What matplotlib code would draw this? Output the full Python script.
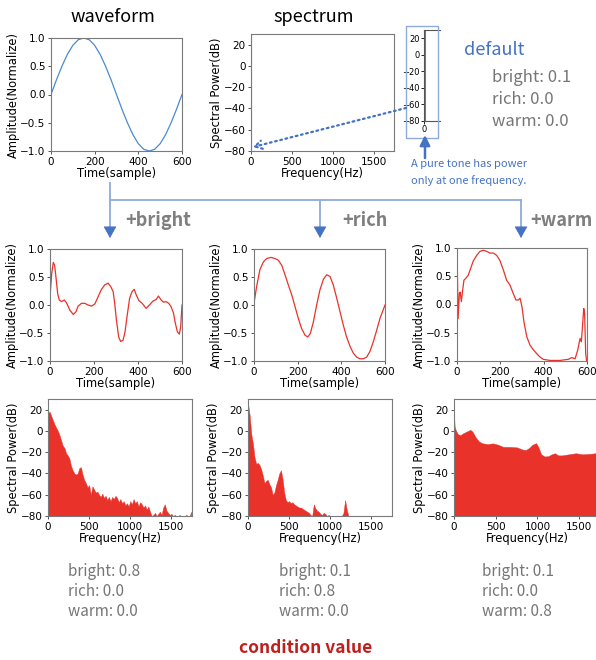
import numpy as np
import matplotlib.pyplot as plt
from matplotlib.patches import Rectangle

# ---- data ----
t_default = np.arange(0, 601, 25)
wave_default = [0, 0.26, 0.5, 0.71, 0.87, 0.97, 1.0, 0.97, 0.87, 0.71, 0.5, 0.26, 0,
                -0.26, -0.5, -0.71, -0.87, -0.97, -1.0, -0.97, -0.87, -0.71, -0.5, -0.26, 0]

t_bright = [0, 8, 15, 21, 27, 35, 42, 53, 65, 75, 90, 106, 118, 128, 143, 158, 173, 189,
            204, 219, 234, 249, 264, 276, 287, 294, 302, 312, 321, 332, 341, 351, 362, 373,
            383, 392, 404, 419, 437, 452, 468, 483, 493, 505, 516, 528, 540, 550, 561, 570,
            579, 588, 594, 600]
wave_bright = [0.15, 0.57, 0.76, 0.71, 0.5, 0.2, 0.09, 0.06, 0.09, 0.04, -0.09, -0.17, -0.12,
               -0.02, 0.03, 0.03, 0, -0.02, 0.02, 0.15, 0.28, 0.36, 0.39, 0.33, 0.24, 0.03,
               -0.27, -0.57, -0.65, -0.63, -0.48, -0.18, 0.12, 0.24, 0.28, 0.18, 0.08, 0.03,
               -0.06, 0, 0.07, 0.1, 0.16, 0.09, 0.05, 0.06, 0.03, -0.03, -0.14, -0.33, -0.48,
               -0.52, -0.39, 0]

t_rich = [0, 12, 27, 43, 58, 78, 96, 111, 127, 142, 157, 173, 188, 203, 218, 234, 246, 258,
          272, 287, 302, 318, 333, 348, 363, 379, 394, 409, 424, 440, 455, 470, 485, 501, 516,
          531, 547, 562, 577, 600]
wave_rich = [0.03, 0.33, 0.63, 0.77, 0.83, 0.85, 0.83, 0.8, 0.71, 0.54, 0.36, 0.18, -0.03,
             -0.24, -0.42, -0.54, -0.57, -0.51, -0.3, 0, 0.27, 0.46, 0.54, 0.51, 0.36, 0.12,
             -0.12, -0.36, -0.57, -0.74, -0.86, -0.93, -0.96, -0.96, -0.93, -0.83, -0.65,
             -0.45, -0.24, 0]

t_warm = [0, 2, 5, 11, 15, 20, 26, 32, 42, 52, 63, 75, 91, 106, 122, 137, 152, 168, 183,
          198, 214, 229, 245, 260, 272, 283, 291, 300, 309, 322, 337, 352, 368, 383, 398,
          429, 475, 514, 529, 545, 557, 568, 574, 580, 585, 589, 594, 598, 600]
wave_warm = [0.9, 0.55, -0.25, 0.2, 0.22, 0.05, 0.25, 0.43, 0.47, 0.52, 0.64, 0.77, 0.87,
             0.94, 0.96, 0.94, 0.91, 0.91, 0.87, 0.78, 0.61, 0.43, 0.34, 0.19, 0.08, 0.08,
             0.11, -0.04, -0.31, -0.57, -0.72, -0.8, -0.87, -0.93, -0.97, -0.99, -0.99, -0.97,
             -0.94, -0.96, -0.81, -0.6, -0.66, -0.34, -0.07, -0.16, -0.87, -0.99, -0.99]

tone_freq = 1
tone_db = 30

f_grid = np.arange(0, 1760, 20)
spec_bright = [17, 18, 14, 10, 6, 3, 0, -4, -9, -14, -16, -21, -23, -26, -33, -37, -40, -41,
               -40, -35, -34, -41, -46, -49, -53, -51, -60, -52, -55, -58, -57, -60, -62, -59,
               -63, -61, -65, -62, -66, -62, -64, -61, -63, -67, -64, -68, -66, -70, -68, -71,
               -66, -69, -64, -68, -66, -71, -67, -69, -72, -70, -74, -71, -76, -80, -79, -77,
               -80, -78, -76, -79, -72, -69, -75, -77, -79, -78, -80, -79, -80, -80, -79, -80,
               -80, -80, -79, -80, -80, -76]
spec_rich = [26, 15, -3, -12, -25, -31, -30, -32, -36, -42, -49, -47, -46, -50, -53, -60, -58,
             -51, -46, -40, -37, -45, -58, -65, -67, -66, -68, -67, -69, -70, -71, -72, -72,
             -73, -74, -75, -76, -77, -79, -80, -69, -73, -75, -76, -78, -79, -77, -78, -80,
             -79, -80, -80, -80, -80, -80, -80, -80, -80, -77, -65, -74, -80, -80, -80, -80,
             -80, -80, -80, -80, -80, -80, -80, -80, -80, -80, -80, -80, -80, -80, -80, -80,
             -80, -80, -80, -80, -80, -80, -80]

f_warm = [0, 3, 8, 20, 45, 75, 115, 155, 195, 220, 260, 300, 345, 405, 465, 530, 590, 675,
          755, 820, 860, 900, 940, 985, 1010, 1045, 1085, 1130, 1170, 1210, 1250, 1295, 1375,
          1460, 1540, 1625, 1750]
spec_warm = [28, 12, 4, 1, -3, -4, -2, -0.5, 1, -0.5, -6, -10, -11.7, -12.4, -11.7, -13, -15,
             -15, -15.5, -17.5, -18, -16, -13, -11.5, -15, -22, -24, -23.8, -22, -21, -23, -23,
             -22, -21, -22, -21.6, -20.5]

conditions = [("bright", 0.1), ("rich", 0.0), ("warm", 0.0)]
cond_bright = [("bright", 0.8), ("rich", 0.0), ("warm", 0.0)]
cond_rich = [("bright", 0.1), ("rich", 0.8), ("warm", 0.0)]
cond_warm = [("bright", 0.1), ("rich", 0.0), ("warm", 0.8)]

# ---- style ----
plt.rcParams['font.family'] = ['DejaVu Sans']
JP = ['Noto Sans CJK JP', 'DejaVu Sans']
RED = '#E8322A'
BLUE = '#4472C4'
LIGHTBLUE = '#8FAADC'
GRAY = '#767676'

W, H = 596, 660
fig = plt.figure(figsize=(W / 100, H / 100), dpi=100)


def box(l, t, r, b):
    return [l / W, 1 - b / H, (r - l) / W, (b - t) / H]


def style(ax):
    for s in ax.spines.values():
        s.set_color('#7a7a7a')
        s.set_linewidth(0.8)
    ax.tick_params(labelsize=7.5, length=2.5, width=0.7, pad=1.5, color='#555555')


def wave_ax(pos, t, y, color):
    ax = fig.add_axes(box(*pos))
    ax.plot(t, y, color=color, lw=0.9)
    ax.set_xlim(0, 600)
    ax.set_ylim(-1, 1)
    ax.set_xticks([0, 200, 400, 600])
    ax.set_yticks([-1, -0.5, 0, 0.5, 1])
    ax.set_xlabel('Time(sample)', fontsize=8.3, labelpad=0)
    ax.set_ylabel('Amplitude(Normalize)', fontsize=8.3, labelpad=0.5)
    style(ax)
    return ax


def spec_ax(pos, f, s):
    ax = fig.add_axes(box(*pos))
    if s is not None:
        ax.fill_between(f, -80, s, color=RED, lw=0.3, ec=RED)
    ax.set_xlim(0, 1750)
    ax.set_ylim(-80, 30)
    ax.set_xticks([0, 500, 1000, 1500])
    ax.set_yticks([-80, -60, -40, -20, 0, 20])
    ax.set_xlabel('Frequency(Hz)', fontsize=8.3, labelpad=0)
    ax.set_ylabel('Spectral Power(dB)', fontsize=8.3, labelpad=0.5)
    style(ax)
    return ax


# top row
wave_ax((51, 38, 182, 151), t_default, wave_default, '#4A8BD0')
ax = spec_ax((251, 34, 394, 151), None, None)
ax.vlines(tone_freq, -80, tone_db, color='#6B6BD6', lw=1.5)

ins = fig.add_axes(box(424, 30, 440, 121))
ins.vlines(tone_freq, -80, tone_db, color='#6B6BD6', lw=1.5)
ins.set_xlim(0, 20)
ins.set_ylim(-80, 30)
ins.set_xticks([0])
ins.set_yticks([-80, -60, -40, -20, 0, 20])
for s in ins.spines.values():
    s.set_color('#555555')
    s.set_linewidth(0.8)
ins.spines['right'].set_visible(False)
ins.tick_params(labelsize=6, length=2, width=0.6, pad=1)

# middle row
wave_ax((50, 249, 182, 361), t_bright, wave_bright, RED)
wave_ax((254, 249, 385, 361), t_rich, wave_rich, RED)
wave_ax((457, 248, 587, 361), t_warm, wave_warm, RED)

# bottom row
spec_ax((48, 399, 192, 516), f_grid, spec_bright)
spec_ax((248, 399, 392, 516), f_grid, spec_rich)
spec_ax((454, 399, 600, 516), f_warm, spec_warm)

# ---- overlay for arrows and text ----
ov = fig.add_axes([0, 0, 1, 1], zorder=10)
ov.set_xlim(0, W)
ov.set_ylim(H, 0)
ov.axis('off')
ov.patch.set_alpha(0)

ov.text(113, 17, 'waveform', fontsize=13, family=JP, ha='center', va='center')
ov.text(314, 17, 'spectrum', fontsize=13, family=JP, ha='center', va='center')

ov.text(464, 50, 'default', fontsize=13, family=JP, color=BLUE, va='center')
for i, (k, v) in enumerate(conditions):
    ov.text(492, 77 + 22 * i, f'{k}: {v:.1f}', fontsize=12, family=JP, color=GRAY, va='center')

ov.text(411, 164, 'A pure tone has power', fontsize=8, family=JP, color=BLUE, va='center')
ov.text(411, 181, 'only at one frequency.', fontsize=8, family=JP, color=BLUE, va='center')

ov.add_patch(Rectangle((406, 26), 32, 112, fill=False, ec=LIGHTBLUE, lw=1))
ov.annotate('', xy=(253, 147), xytext=(406, 108),
            arrowprops=dict(arrowstyle='->,head_length=0.5,head_width=0.3', color=BLUE,
                            lw=1.6, ls=(0, (0.8, 1.6)), shrinkA=0, shrinkB=0))
ov.annotate('', xy=(425, 135), xytext=(425, 158),
            arrowprops=dict(arrowstyle='-|>,head_length=0.6,head_width=0.3', color=BLUE,
                            lw=1.8, mutation_scale=10, shrinkA=0, shrinkB=0))

# branch connectors
ov.plot([110, 110], [183, 200], color=LIGHTBLUE, lw=1.3)
ov.plot([110, 521], [200, 200], color=LIGHTBLUE, lw=1.3)
for x in (110, 320, 521):
    ov.plot([x, x], [200, 230], color=LIGHTBLUE, lw=1.3)
    ov.annotate('', xy=(x, 238), xytext=(x, 227),
                arrowprops=dict(arrowstyle='-|>,head_length=0.75,head_width=0.42',
                                mutation_scale=10, color=BLUE, lw=0.5,
                                shrinkA=0, shrinkB=0))

ov.text(125, 221, '+bright', fontsize=13, family=JP, weight='bold', color='#7f7f7f', va='center')
ov.text(342, 221, '+rich', fontsize=13, family=JP, weight='bold', color='#7f7f7f', va='center')
ov.text(530, 220, '+warm', fontsize=13, family=JP, weight='bold', color='#7f7f7f', va='center')

for x0, cond in ((68, cond_bright), (279, cond_rich), (482, cond_warm)):
    for i, (k, v) in enumerate(cond):
        ov.text(x0, 571 + 20 * i, f'{k}: {v:.1f}', fontsize=11, family=JP, color=GRAY, va='center')

ov.text(306, 648, 'condition value', fontsize=12.5, family=JP, weight='bold',
        color='#C0201D', ha='center', va='center')

fig.savefig('out.png', dpi=100)
